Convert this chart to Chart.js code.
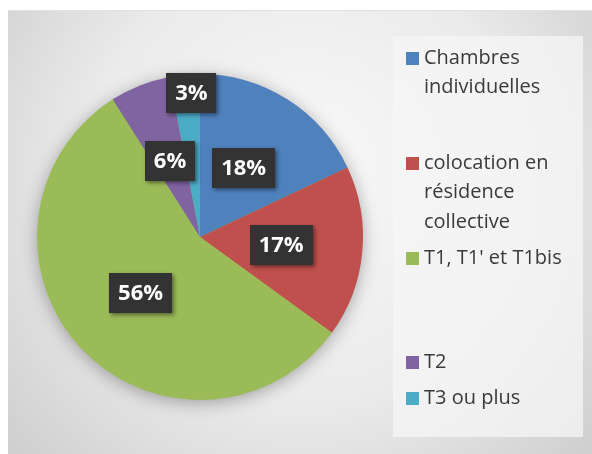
<!DOCTYPE html>
<html>
<head>
<meta charset="utf-8">
<script src="https://cdn.jsdelivr.net/npm/chart.js@4/dist/chart.umd.min.js"></script>
<style>
  html, body { margin: 0; padding: 0; background: #fff; }
  #wrap { width: 592px; height: 454px; position: relative; }
</style>
</head>
<body>
<div id="wrap"><canvas id="pie"></canvas></div>
<script>
// data
const categories = [
    ['Chambres', 'individuelles'],
    ['colocation en', 'résidence', 'collective'],
    ['T1, T1\' et T1bis'],
    ['T2'],
    ['T3 ou plus']
];
const shares = [18, 17, 56, 6, 3];
const sliceColors = ['#4f81bd', '#c0504d', '#9bbb59', '#8064a2', '#4bacc6'];

// legend rows (middle of first line) - Excel spreads them out unevenly
const legendTop = [58, 163, 258, 362, 398];
const LINE_H = 29.5;

const bgPlugin = {
    id: 'bg',
    beforeDraw(chart) {
        const ctx = chart.ctx;
        ctx.save();
        ctx.fillStyle = '#fff';
        ctx.fillRect(0, 0, chart.width, chart.height);
        const g = ctx.createRadialGradient(310, 160, 20, 300, 200, 420);
        g.addColorStop(0, '#f7f7f7');
        g.addColorStop(0.5, '#ebebeb');
        g.addColorStop(1, '#c9c9c9');
        ctx.fillStyle = g;
        ctx.fillRect(8, 10, chart.width - 8, chart.height - 10);
        ctx.fillStyle = '#e2e2e2';
        ctx.fillRect(8, 10, chart.width - 8, 1);
        // legend panel
        ctx.fillStyle = 'rgba(245,245,245,0.75)';
        ctx.fillRect(393, 36, 190, 401);
        ctx.restore();
    },
    beforeDatasetsDraw(chart) {
        const arc = chart.getDatasetMeta(0).data[0];
        if (!arc) return;
        const ctx = chart.ctx;
        ctx.save();
        ctx.shadowColor = 'rgba(0,0,0,0.35)';
        ctx.shadowBlur = 18;
        ctx.shadowOffsetY = 3;
        ctx.fillStyle = '#9bbb59';
        ctx.beginPath();
        ctx.arc(arc.x, arc.y, arc.outerRadius - 1, 0, Math.PI * 2);
        ctx.fill();
        ctx.restore();
    }
};

const labelPlugin = {
    id: 'pctLabels',
    afterDatasetsDraw(chart) {
        const ctx = chart.ctx;
        const meta = chart.getDatasetMeta(0);
        const total = shares.reduce((a, b) => a + b, 0);
        ctx.save();
        ctx.font = 'bold 22px "Open Sans", sans-serif';
        ctx.textAlign = 'center';
        ctx.textBaseline = 'middle';
        meta.data.forEach((arc, i) => {
            const p = arc.getProps(['x', 'y', 'startAngle', 'endAngle', 'outerRadius'], true);
            const mid = (p.startAngle + p.endAngle) / 2;
            // the thin slice label gets pushed out near the rim, like Excel does
            const f = (shares[i] / total) < 0.05 ? 0.89 : 0.5;
            const cx = p.x + Math.cos(mid) * p.outerRadius * f + ((shares[i] / total) < 0.05 ? 5 : 0);
            const cy = p.y + Math.sin(mid) * p.outerRadius * f;
            const txt = Math.round(shares[i] / total * 100) + '%';
            const w = ctx.measureText(txt).width + 18;
            const h = 40;
            ctx.save();
            ctx.shadowColor = 'rgba(0,0,0,0.45)';
            ctx.shadowBlur = 4;
            ctx.shadowOffsetX = 2;
            ctx.shadowOffsetY = 2;
            ctx.fillStyle = '#333333';
            ctx.fillRect(Math.round(cx - w / 2), Math.round(cy - h / 2), Math.round(w), h);
            ctx.restore();
            ctx.fillStyle = '#ffffff';
            ctx.fillText(txt, cx, cy + 1);
        });
        ctx.restore();
    }
};

const legendPlugin = {
    id: 'sideLegend',
    afterDraw(chart) {
        const ctx = chart.ctx;
        ctx.save();
        ctx.font = '20px "Open Sans", sans-serif';
        ctx.textBaseline = 'middle';
        ctx.textAlign = 'left';
        categories.forEach((lines, i) => {
            const y = legendTop[i];
            ctx.fillStyle = sliceColors[i];
            ctx.fillRect(406, y - 6, 13, 13);
            ctx.fillStyle = '#3a3a3a';
            lines.forEach((ln, k) => ctx.fillText(ln, 424, y + k * LINE_H));
        });
        ctx.restore();
    }
};

new Chart(document.getElementById('pie'), {
    type: 'pie',
    data: {
        labels: categories,
        datasets: [{
            data: shares,
            backgroundColor: sliceColors,
            borderWidth: 0
        }]
    },
    options: {
        responsive: true,
        maintainAspectRatio: false,
        animation: false,
        layout: { padding: { left: 37, top: 74, right: 229, bottom: 54 } },
        plugins: {
            legend: { display: false },
            tooltip: { enabled: false }
        }
    },
    plugins: [bgPlugin, labelPlugin, legendPlugin]
});
</script>
</body>
</html>
